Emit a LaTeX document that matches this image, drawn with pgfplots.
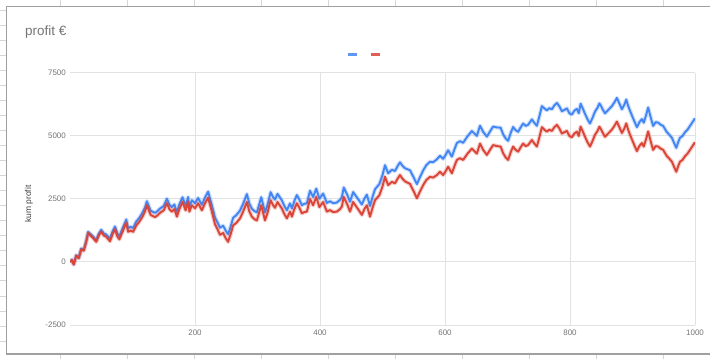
\documentclass[border=0pt]{standalone}
\usepackage{pgfplots}
\usepackage{pgfplotstable}
\pgfplotsset{compat=1.18}
\usepackage{fontspec}
\setmainfont{Liberation Sans}
\definecolor{gblue}{HTML}{4285F4}
\definecolor{gred}{HTML}{DB4437}
\definecolor{gtext}{HTML}{757575}
\definecolor{ggrid}{HTML}{E2E2E2}
\definecolor{gzero}{HTML}{8E8E8E}
\definecolor{gframe}{HTML}{A0A0A0}
\definecolor{gcell}{HTML}{D6D6D6}

\pgfplotstableread{
x red blue
0 0 0
3 80 85
6 -100 -90
10 250 265
14 150 170
18 500 530
22 450 485
26 800 840
29 1150 1195
33 1050 1105
37 950 1010
42 800 865
46 1050 1125
50 1200 1280
54 1050 1135
58 1000 1090
64 820 920
68 1100 1205
72 1300 1410
76 1000 1115
79 900 1020
84 1200 1330
90 1550 1685
93 1200 1340
97 1250 1395
101 1200 1350
106 1450 1605
111 1600 1755
116 1800 1960
120 2000 2160
123 2250 2410
129 1870 2035
136 1780 1950
140 1850 2020
144 1950 2120
150 2050 2225
155 2330 2510
159 2100 2280
163 2000 2180
167 2100 2285
171 1800 1985
175 2100 2290
180 2380 2570
185 2050 2240
189 2380 2575
191 2000 2195
195 2250 2450
200 2130 2330
205 2330 2540
211 2050 2270
216 2330 2560
221 2550 2790
227 2000 2255
232 1500 1765
236 1300 1570
240 1080 1360
245 1150 1440
249 950 1250
253 800 1100
257 1100 1405
261 1450 1755
266 1550 1855
272 1730 2040
277 2000 2310
283 2380 2695
287 2000 2315
291 1800 2115
295 1700 2020
299 1650 1970
306 2250 2570
312 1650 1970
316 1950 2270
321 2450 2770
325 2250 2570
328 2150 2475
332 2380 2705
339 2120 2445
343 1900 2225
347 1730 2055
352 2000 2325
355 1800 2125
359 2100 2425
363 2330 2655
367 2150 2475
371 1930 2255
375 1980 2310
379 2000 2330
384 2500 2830
389 2250 2580
394 2580 2910
399 2180 2510
405 2380 2715
411 2000 2345
416 2060 2410
421 1980 2335
427 2000 2360
432 2100 2470
435 2200 2570
438 2580 2955
444 2260 2645
448 2000 2390
453 2380 2775
460 2130 2530
467 1870 2280
471 2100 2515
475 2250 2670
480 1800 2225
484 2150 2580
488 2450 2885
495 2650 3095
500 3000 3450
504 3380 3840
509 3050 3520
515 3180 3660
520 3120 3610
524 3300 3800
528 3450 3955
532 3300 3815
536 3200 3720
544 3100 3640
550 2800 3350
555 2530 3090
560 2800 3370
565 3050 3630
570 3250 3840
576 3380 3980
581 3350 3960
587 3450 4075
592 3580 4215
597 3450 4095
601 3600 4250
605 3780 4435
611 3520 4180
615 3800 4465
619 4050 4720
624 4120 4795
629 4050 4730
636 4300 4990
643 4500 5195
647 4400 5100
651 4300 5005
656 4700 5410
661 4450 5165
667 4250 4975
672 4450 5180
677 4640 5375
683 4600 5340
689 4580 5330
693 4320 5070
697 4150 4905
701 4050 4810
705 4350 5115
709 4580 5355
713 4450 5230
717 4380 5165
721 4550 5340
725 4700 5495
729 4600 5400
733 4640 5445
739 4840 5655
743 4700 5520
747 4580 5405
751 4950 5780
755 5350 6185
759 5250 6095
763 5170 6020
767 5250 6105
771 5200 6060
775 5350 6215
779 5440 6310
783 5300 6175
787 5100 5980
791 5150 6035
795 5200 6095
799 5000 5900
803 4950 5850
807 5100 6005
811 5170 6075
814 5000 5905
817 5370 6280
821 5150 6060
824 4970 5880
828 4750 5665
832 4580 5495
836 4800 5720
840 5050 5970
844 5200 6120
847 5370 6295
850 5250 6175
853 5100 6025
856 4970 5900
861 5100 6030
867 5250 6185
871 5400 6335
875 5570 6510
879 5350 6290
883 5120 6060
887 5300 6245
890 5500 6445
893 5250 6195
896 5050 6000
901 4750 5700
907 4400 5350
911 4600 5550
915 4720 5670
918 4580 5530
922 4900 5850
925 5180 6130
929 4800 5750
933 4450 5400
937 4600 5550
941 4580 5530
945 4500 5450
949 4450 5400
955 4200 5150
959 4100 5050
963 3980 4930
967 3750 4700
970 3580 4530
973 3800 4750
976 3980 4930
980 4050 5000
984 4200 5150
988 4300 5250
992 4450 5400
996 4600 5550
1000 4750 5700
}\profit

\begin{document}
\begin{tikzpicture}
\useasboundingbox (0,0) rectangle (710bp,359bp);
\fill[white] (0,0) rectangle (710bp,359bp);
% spreadsheet cells around the chart
\foreach \k in {0,...,22} {
  \pgfmathsetmacro{\yy}{359-10-15.05*\k}
  \draw[gcell, line width=0.8bp] (0bp,\yy bp) -- (6bp,\yy bp);
}
\foreach \xx in {60,127,194,261,328,395,462,529,596,663} {
  \draw[gcell, line width=0.8bp] (\xx bp,359bp) -- (\xx bp,353bp);
  \draw[gcell, line width=0.8bp] (\xx bp,0bp) -- (\xx bp,5bp);
}
% chart frame
\draw[gframe, line width=1.5bp] (711bp,352.5bp) -- (6.5bp,352.5bp) -- (6.5bp,4.8bp) -- (711bp,4.8bp);

\node[anchor=base west, font=\fontsize{13.5}{16}\selectfont, text=gtext, inner sep=0pt] at (25bp,323.5bp) {profit €};
\node[rotate=90, font=\fontsize{8.5}{10}\selectfont, text=black!75, inner sep=0pt] at (29bp,155bp) {kum profit};

\begin{axis}[
  at={(70bp,34bp)}, anchor=south west,
  scale only axis, width=625bp, height=252bp,
  xmin=0, xmax=1000, ymin=-2500, ymax=7500,
  axis line style={draw=none},
  major tick length=0pt,
  xtick={200,400,600,800,1000},
  ytick={-2500,2500,5000,7500},
  extra y ticks={0},
  extra y tick style={grid style={color=gzero, line width=1.3bp}},
  grid=major,
  major grid style={color=ggrid, line width=1bp},
  tick label style={font=\fontsize{8}{9}\selectfont, text=gtext},
  /pgf/number format/assume math mode=true,
  /pgf/number format/1000 sep={},
  yticklabel style={inner sep=0pt, xshift=-4bp},
  xticklabel style={inner sep=0pt, yshift=-4.5bp},
  legend style={draw=none, fill=none, legend columns=-1,
    at={(axis description cs:0.4416,1.075)}, anchor=west,
    inner sep=0pt, outer sep=0pt, column sep=0pt,
    nodes={inner sep=0pt},
    /tikz/every odd column/.append style={column sep=10bp}},
  legend image code/.code={\draw[#1, line width=3bp, line cap=butt, opacity=0.85] (0bp,0bp) -- (9bp,0bp);},
]
\addplot[gblue, line width=4.2bp, line join=round, opacity=0.25, forget plot] table[x=x, y=blue] {\profit};
\addplot[gblue, line width=1.9bp, line join=round] table[x=x, y=blue] {\profit};
\addlegendentry{}
\addplot[gred, line width=4.2bp, line join=round, opacity=0.25, forget plot] table[x=x, y=red] {\profit};
\addplot[gred, line width=1.9bp, line join=round] table[x=x, y=red] {\profit};
\addlegendentry{}
\end{axis}
\end{tikzpicture}
\end{document}
